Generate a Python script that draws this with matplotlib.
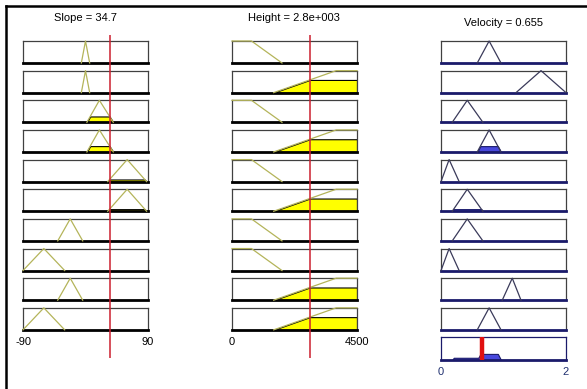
import numpy as np
import matplotlib
matplotlib.use("Agg")
import matplotlib.pyplot as plt
from matplotlib.lines import Line2D

plt.rcParams['font.family'] = ['Liberation Sans', 'DejaVu Sans']

# ---------------------------------------------------------------------------
# fuzzy system: inputs, membership functions and rules
# ---------------------------------------------------------------------------

slope_value = 34.7
height_value = 2800
velocity_value = 0.655

slope_range = (-90, 90)
height_range = (0, 4500)
velocity_range = (0, 2)

# triangular mfs (a, b, c) on slope, one per rule
slope_mf = [(-6, 0, 6), (-6, 0, 6), (2, 20, 40), (2, 20, 40), (32, 60, 88),
            (32, 60, 88), (-40, -22, -4), (-90, -60, -30), (-40, -22, -4),
            (-90, -60, -30)]

# height mfs: piecewise linear vertices (zero flats left out)
height_shapes = {
    'low':  ([0, 700, 1800], [1, 1, 0]),
    'high': ([1500, 3750, 4500], [0, 1, 1]),
}
height_mf = ['low', 'high', 'low', 'high', 'low', 'high', 'low', 'low',
             'high', 'high']

# triangular mfs (a, b, c) on velocity (rule consequents)
velocity_mf = [(0.58, 0.77, 0.96), (1.2, 1.6, 2.0), (0.18, 0.42, 0.67),
               (0.58, 0.77, 0.96), (0.0, 0.13, 0.29), (0.18, 0.42, 0.67),
               (0.18, 0.42, 0.67), (0.0, 0.13, 0.29), (0.98, 1.14, 1.28),
               (0.58, 0.77, 0.96)]

# ---------------------------------------------------------------------------
# layout (pixels)
# ---------------------------------------------------------------------------

W, H = 587, 389
col_x = [23, 232, 441]
col_w = 125
row_top0, row_pitch, row_h = 41, 29.65, 22

line_col = '#b4b45a'
out_line = '#3a3a5a'
yellow = '#ffff00'
blue = '#4848dc'
navy = '#1a1a6a'
red = '#cc1f2f'


def frac(x0, y0, w, h):
    return [x0 / W, 1 - (y0 + h) / H, w / W, h / H]


def tri_pts(p):
    a, b, c = p
    return [a, b, c], [0, 1, 0]


def style_box(ax, xr, bottom_col):
    ax.set_xlim(*xr)
    ax.set_ylim(0, 1)
    ax.set_xticks([])
    ax.set_yticks([])
    for s in ['top', 'left', 'right']:
        ax.spines[s].set_color('#404040')
        ax.spines[s].set_linewidth(0.9)
    ax.spines['bottom'].set_color(bottom_col)
    ax.spines['bottom'].set_linewidth(2.0)


def draw_mf(ax, xs, ys, level, xr, lcol, fcol, ecol):
    ax.plot(xs, ys, color=lcol, lw=0.9, clip_on=False, zorder=3)
    if level > 0:
        g = np.linspace(xr[0], xr[1], 600)
        mu = np.interp(g, xs, ys)
        clipped = np.minimum(mu, level)
        ax.fill_between(g, 0, clipped, where=clipped > 0, color=fcol,
                        edgecolor=ecol, lw=0.8, zorder=2)


fig = plt.figure(figsize=(W / 100, H / 100), dpi=100)
fig.patch.set_facecolor('white')

agg_grid = np.linspace(velocity_range[0], velocity_range[1], 800)
aggregate = np.zeros_like(agg_grid)

for i in range(10):
    top = row_top0 + i * row_pitch

    # slope column
    sx, sy = tri_pts(slope_mf[i])
    mu_s = float(np.interp(slope_value, sx, sy))
    ax_s = fig.add_axes(frac(col_x[0], top, col_w, row_h))
    style_box(ax_s, slope_range, 'black')
    draw_mf(ax_s, sx, sy, mu_s, slope_range, line_col, yellow, 'black')

    # height column
    hx, hy = height_shapes[height_mf[i]]
    mu_h = float(np.interp(height_value, hx, hy))
    ax_h = fig.add_axes(frac(col_x[1], top, col_w, row_h))
    style_box(ax_h, height_range, 'black')
    draw_mf(ax_h, hx, hy, mu_h, height_range, line_col, yellow, 'black')

    # velocity column, clipped at the rule firing strength
    fire = min(mu_s, mu_h)
    vx, vy = tri_pts(velocity_mf[i])
    ax_v = fig.add_axes(frac(col_x[2], top, col_w, row_h))
    style_box(ax_v, velocity_range, navy)
    draw_mf(ax_v, vx, vy, fire, velocity_range, out_line, blue, navy)
    aggregate = np.maximum(aggregate, np.minimum(
        np.interp(agg_grid, vx, vy), fire))

# range labels under the last rule
for axx, xr, labels in [(ax_s, slope_range, ['-90', '90']),
                        (ax_h, height_range, ['0', '4500'])]:
    axx.set_xticks(list(xr))
    axx.set_xticklabels(labels)
    axx.tick_params(axis='x', length=0, pad=5, labelsize=8)

# aggregated output
ax = fig.add_axes(frac(col_x[2], 337, col_w, 23))
ax.set_xlim(*velocity_range)
ax.set_ylim(0, 1)
ax.set_yticks([])
for s in ax.spines.values():
    s.set_color(navy)
    s.set_linewidth(0.9)
ax.spines['bottom'].set_linewidth(2.0)
ax.fill_between(agg_grid, 0, aggregate, where=aggregate > 0, color=blue,
                edgecolor=navy, lw=0.8)
ax.axvline(velocity_value, color='#e01010', lw=3.2, zorder=4)
ax.set_xticks(list(velocity_range))
ax.set_xticklabels(['0', '2'])
ax.tick_params(axis='x', length=0, pad=5, labelsize=8, labelcolor='#203070')

# input markers spanning each input column
for k, (xr, val) in enumerate([(slope_range, slope_value),
                                (height_range, height_value)]):
    ov = fig.add_axes(frac(col_x[k], 35, col_w, 323))
    ov.set_xlim(*xr)
    ov.set_ylim(0, 1)
    ov.axis('off')
    ov.patch.set_alpha(0)
    ov.axvline(val, color=red, lw=1.1)

# column titles
fig.text(85.5 / W, 1 - 18 / H, 'Slope = 34.7', ha='center', va='center',
         fontsize=8)
fig.text(294 / W, 1 - 18 / H, 'Height = 2.8e+003', ha='center',
         va='center', fontsize=8)
fig.text(503 / W, 1 - 23 / H, 'Velocity = 0.655', ha='center',
         va='center', fontsize=8)

# window frame
fig.add_artist(Line2D([6 / W, 1], [1 - 6 / H, 1 - 6 / H], color='black',
                      lw=1.8, transform=fig.transFigure))
fig.add_artist(Line2D([6 / W, 6 / W], [0, 1 - 6 / H], color='black',
                      lw=1.8, transform=fig.transFigure))

fig.savefig('out.png', dpi=100)
